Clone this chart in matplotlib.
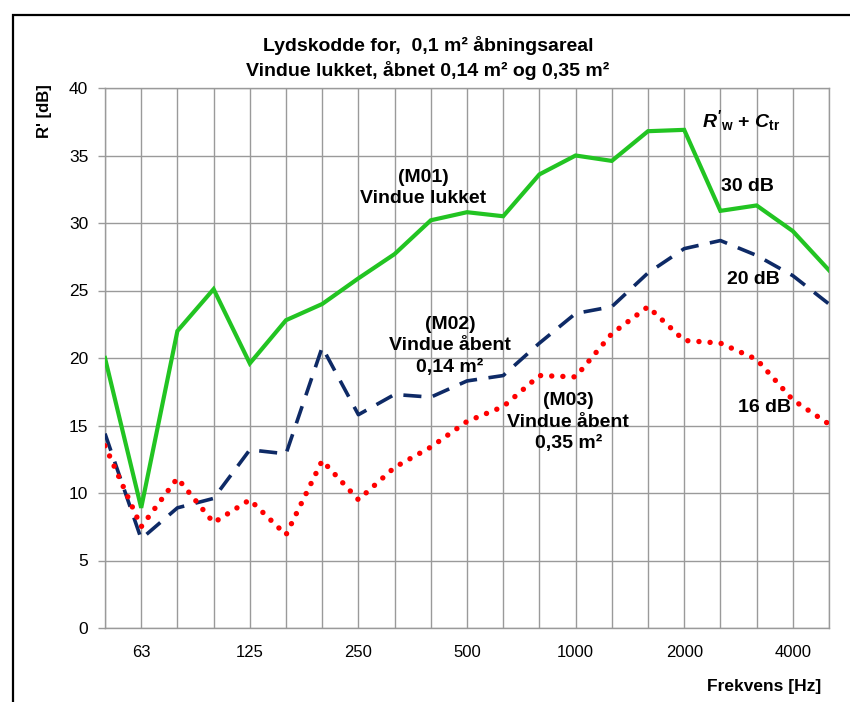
import matplotlib
matplotlib.use("Agg")
import matplotlib.pyplot as plt
from matplotlib import font_manager
from matplotlib.patches import Rectangle

# ---- data ----
freqs = ["50", "63", "80", "100", "125", "160", "200", "250", "315", "400", "500",
         "630", "800", "1000", "1250", "1600", "2000", "2500", "3150", "4000", "5000"]
shown_ticks = ["63", "125", "250", "500", "1000", "2000", "4000"]
m01_lukket = [20.0, 8.9, 22.0, 25.1, 19.6, 22.8, 24.0, 25.9, 27.7, 30.2, 30.8,
              30.5, 33.6, 35.0, 34.6, 36.8, 36.9, 30.9, 31.3, 29.4, 26.5]
m02_aabent_014 = [14.4, 6.6, 8.9, 9.6, 13.2, 12.9, 20.8, 15.8, 17.3, 17.1, 18.3,
                  18.7, 21.1, 23.3, 23.8, 26.3, 28.1, 28.7, 27.6, 26.1, 24.0]
m03_aabent_035 = [13.5, 7.5, 11.1, 7.8, 9.5, 6.9, 12.4, 9.5, 11.9, 13.4, 15.3,
                  16.4, 18.7, 18.6, 21.8, 23.8, 21.3, 21.1, 19.9, 16.9, 15.1]

names = {f.name for f in font_manager.fontManager.ttflist}
base = "Liberation Sans" if "Liberation Sans" in names else "DejaVu Sans"
narrow = "Liberation Sans Narrow" if "Liberation Sans Narrow" in names else base

plt.rcParams["font.family"] = [base, "DejaVu Sans"]
plt.rcParams["mathtext.fontset"] = "custom"
plt.rcParams["mathtext.rm"] = base + ":bold"
plt.rcParams["mathtext.it"] = base + ":italic:bold"
plt.rcParams["mathtext.bf"] = base + ":bold"

W, H = 850, 702
fig = plt.figure(figsize=(W / 100, H / 100), dpi=100)
ax = fig.add_axes([105 / W, 1 - 628 / H, (829 - 105) / W, (628 - 88) / H])

x = list(range(len(freqs)))
ax.plot(x, m01_lukket, color="#22C422", lw=3.0, solid_joinstyle="miter", zorder=3)
ax.plot(x, m02_aabent_014, color="#0E2A66", lw=2.6, dashes=(5.0, 3.2), zorder=3)
ax.plot(x, m03_aabent_035, color="#FF0000", lw=3.9, dashes=(0.01, 2.05),
        dash_capstyle="round", zorder=3)

ax.set_xlim(0, len(freqs) - 1)
ax.set_ylim(0, 40)
ax.set_yticks(range(0, 41, 5))
ax.set_xticks(x, minor=True)
ax.set_xticks([freqs.index(t) for t in shown_ticks])
ax.set_xticklabels(shown_ticks)
ax.grid(True, which="both", axis="x", color="#9a9a9a", lw=1.0)
ax.grid(True, which="major", axis="y", color="#9a9a9a", lw=1.0)
ax.set_axisbelow(True)
for s in ax.spines.values():
    s.set_color("#9a9a9a")
    s.set_linewidth(1.0)
ax.tick_params(axis="y", length=5, width=1.0, color="#9a9a9a", pad=7, labelsize=12.5)
ax.tick_params(axis="x", which="both", length=0, pad=12, labelsize=12)

bold = dict(fontsize=14, fontweight="bold", ha="center", va="center",
            linespacing=1.35, color="black")
ax.text(8.8, 32.6, "(M01)\nVindue lukket", **bold)
ax.text(9.53, 20.9, "(M02)\nVindue åbent\n0,14 m²", **bold)
ax.text(12.8, 15.25, "(M03)\nVindue åbent\n0,35 m²", **bold)
ax.text(17.76, 32.74, "30 dB", **bold)
ax.text(17.9, 25.78, "20 dB", **bold)
ax.text(18.23, 16.3, "16 dB", **bold)
ax.text(16.5, 37.1, r"$R'_{\mathrm{w}}$ + $C_{\mathrm{tr}}$", fontsize=14,
        fontweight="bold", ha="left", va="baseline")

fig.text(428 / W, 1 - 58 / H, "Lydskodde for,  0,1 m² åbningsareal\nVindue lukket, åbnet 0,14 m² og 0,35 m²",
         family=[narrow, "DejaVu Sans"], fontsize=14, fontweight="bold",
         ha="center", va="center", linespacing=1.35)
fig.text(44 / W, 1 - 111 / H, "R' [dB]", rotation=90, fontsize=12,
         fontweight="bold", ha="center", va="center")
fig.text(764 / W, 1 - 687 / H, "Frekvens [Hz]", family=[narrow, "DejaVu Sans"],
         fontsize=12.5, fontweight="bold", ha="center", va="center")

fig.add_artist(Rectangle((13.5 / W, -0.1), 1.2, (1 - 15 / H) + 0.1,
                         transform=fig.transFigure, fill=False, lw=1.6,
                         ec="black", clip_on=False))

fig.savefig("out.png", dpi=100)
